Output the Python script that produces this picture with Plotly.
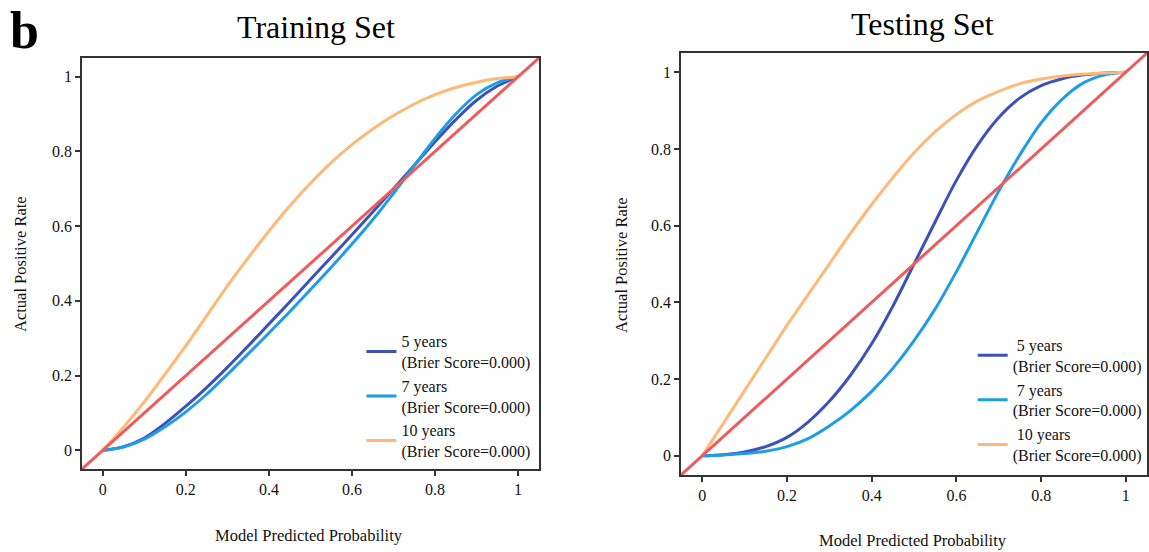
import plotly.graph_objects as go

# ---------------- data ----------------
x_pts = [0, 0.05, 0.1, 0.15, 0.2, 0.25, 0.3, 0.35, 0.4, 0.45, 0.5,
         0.55, 0.6, 0.65, 0.7, 0.75, 0.8, 0.85, 0.9, 0.95, 1.0]

train_5y = [0, 0.01, 0.033, 0.072, 0.118, 0.168, 0.222, 0.279, 0.338, 0.397, 0.457,
            0.517, 0.577, 0.638, 0.70, 0.763, 0.826, 0.885, 0.937, 0.975, 1.0]
train_7y = [0, 0.009, 0.03, 0.063, 0.103, 0.15, 0.203, 0.258, 0.314, 0.371, 0.43,
            0.49, 0.552, 0.617, 0.688, 0.762, 0.835, 0.90, 0.952, 0.984, 1.0]
train_10y = [0, 0.062, 0.13, 0.204, 0.28, 0.36, 0.44, 0.515, 0.587, 0.654, 0.715,
             0.77, 0.818, 0.86, 0.896, 0.927, 0.952, 0.971, 0.985, 0.995, 1.0]

test_5y = [0, 0.003, 0.01, 0.024, 0.048, 0.088, 0.142, 0.21, 0.292, 0.39, 0.50,
           0.61, 0.718, 0.81, 0.882, 0.933, 0.965, 0.983, 0.993, 0.998, 1.0]
test_7y = [0, 0.002, 0.006, 0.012, 0.024, 0.045, 0.078, 0.118, 0.168, 0.228, 0.30,
           0.383, 0.48, 0.585, 0.69, 0.785, 0.868, 0.93, 0.972, 0.993, 1.0]
test_10y = [0, 0.085, 0.17, 0.255, 0.34, 0.42, 0.50, 0.58, 0.655, 0.725, 0.79,
            0.845, 0.89, 0.925, 0.95, 0.97, 0.982, 0.99, 0.995, 0.998, 1.0]

diag = [-0.05, 1.05]

series_names = ["5 years<br>(Brier Score=0.000)",
                "7 years<br>(Brier Score=0.000)",
                "10 years<br>(Brier Score=0.000)"]
test_names = [" 5 years<br>(Brier Score=0.000)",
              " 7 years<br>(Brier Score=0.000)",
              " 10 years<br>(Brier Score=0.000)"]

tick_vals = [0, 0.2, 0.4, 0.6, 0.8, 1]
tick_text = ["0", "0.2", "0.4", "0.6", "0.8", "1"]

colors = ["#3D52B8", "#1E9DE6", "#FFB877"]
diag_color = "#EF5B5B"
FONT = "Liberation Serif, Times New Roman, serif"

fig = go.Figure()

def add_panel(ys, names, xa, ya, legend):
    for y, name, c in zip(ys, names, colors):
        fig.add_trace(go.Scatter(
            x=x_pts, y=y, mode="lines", name=name,
            line=dict(color=c, width=3, shape="spline", smoothing=1.0),
            xaxis=xa, yaxis=ya, legend=legend))
    fig.add_trace(go.Scatter(
        x=diag, y=diag, mode="lines", showlegend=False,
        line=dict(color=diag_color, width=3),
        xaxis=xa, yaxis=ya))

add_panel([train_5y, train_7y, train_10y], series_names, "x", "y", "legend")
add_panel([test_5y, test_7y, test_10y], test_names, "x2", "y2", "legend2")

axis_common = dict(
    range=[-0.05, 1.05], showline=True, mirror=True, linecolor="#333333",
    linewidth=1.5, ticks="outside", ticklen=5, tickwidth=1.5, tickcolor="#333333",
    showgrid=False, zeroline=False, tickvals=tick_vals, ticktext=tick_text,
    tickfont=dict(family=FONT, size=16, color="#111111"),
)

fig.update_layout(
    width=1149, height=552,
    margin=dict(l=0, r=0, t=0, b=0),
    paper_bgcolor="white", plot_bgcolor="white",
    font=dict(family=FONT, color="#111111"),
    xaxis=dict(domain=[0.0714, 0.469], anchor="y", **axis_common),
    yaxis=dict(domain=[0.1504, 0.8949], anchor="x", **axis_common),
    xaxis2=dict(domain=[0.5927, 0.9983], anchor="y2", **axis_common),
    yaxis2=dict(domain=[0.1395, 0.904], anchor="x2", **axis_common),
    legend=dict(x=0.466, y=0.152, xanchor="right", yanchor="bottom",
                bgcolor="rgba(0,0,0,0)", font=dict(family=FONT, size=16),
                tracegroupgap=0),
    legend2=dict(x=0.998, y=0.145, xanchor="right", yanchor="bottom",
                 bgcolor="rgba(0,0,0,0)", font=dict(family=FONT, size=16),
                 tracegroupgap=0),
    annotations=[
        dict(text="<b>b</b>", x=8 / 1149, y=1.0, xref="paper", yref="paper",
             xanchor="left", yanchor="top", showarrow=False,
             font=dict(family=FONT, size=52, color="#000000")),
        dict(text="Training Set", x=316 / 1149, y=1 - 27 / 552, xref="paper", yref="paper",
             xanchor="center", yanchor="middle", showarrow=False,
             font=dict(family=FONT, size=32, color="#000000")),
        dict(text="Testing Set", x=922 / 1149, y=1 - 24 / 552, xref="paper", yref="paper",
             xanchor="center", yanchor="middle", showarrow=False,
             font=dict(family=FONT, size=32, color="#000000")),
        dict(text="Model Predicted Probability", x=309 / 1149, y=1 - 535 / 552,
             xref="paper", yref="paper", xanchor="center", yanchor="middle",
             showarrow=False, font=dict(family=FONT, size=16.5, color="#111111")),
        dict(text="Model Predicted Probability", x=913 / 1149, y=1 - 540 / 552,
             xref="paper", yref="paper", xanchor="center", yanchor="middle",
             showarrow=False, font=dict(family=FONT, size=16.5, color="#111111")),
        dict(text="Actual Positive Rate", x=20 / 1149, y=1 - 264 / 552,
             xref="paper", yref="paper", xanchor="center", yanchor="middle",
             textangle=-90, showarrow=False,
             font=dict(family=FONT, size=16.5, color="#111111")),
        dict(text="Actual Positive Rate", x=621 / 1149, y=1 - 265 / 552,
             xref="paper", yref="paper", xanchor="center", yanchor="middle",
             textangle=-90, showarrow=False,
             font=dict(family=FONT, size=16.5, color="#111111")),
    ],
)

fig.write_html("out.html")
